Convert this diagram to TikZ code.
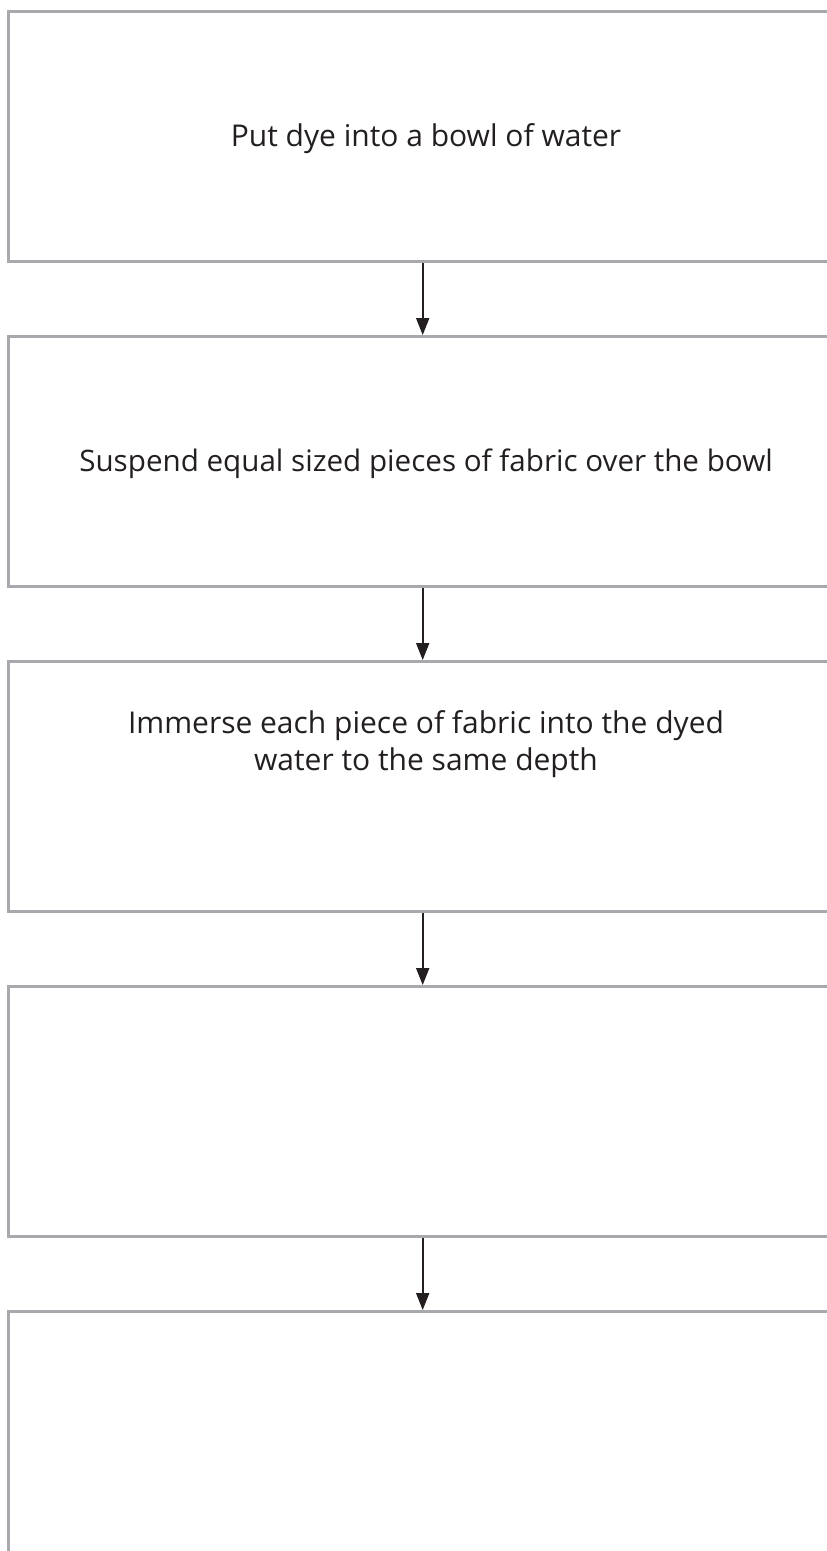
\documentclass[tikz,border=0pt]{standalone}
\usepackage{fontspec}
\setmainfont{Open Sans}
\usetikzlibrary{arrows.meta}
\definecolor{boxgray}{HTML}{A7A9AC}
\definecolor{ink}{HTML}{231F20}
\begin{document}
\begin{tikzpicture}[x=1pt,y=-1pt,
  stepbox/.style={draw=boxgray, line width=3pt, minimum width=835pt, minimum height=250pt, inner sep=0pt},
  label/.style={text=ink, align=center, font=\fontsize{30}{37}\selectfont, inner sep=0pt},
  flow/.style={draw=ink, line width=2pt, -{Triangle[width=13pt,length=17pt]}}]
\useasboundingbox (0,0) rectangle (827,1551);
\clip (0,0) rectangle (827,1551);
\node[stepbox] (b1) at (426,136.5) {};
\node[stepbox] (b2) at (426,461.5) {};
\node[stepbox] (b3) at (426,786.5) {};
\node[stepbox] (b4) at (426,1111.5) {};
\node[stepbox] (b5) at (426,1436.5) {};
\node[label] (t1) at (426,139) {Put dye into a bowl of water};
\node[label] (t2) at (426,464) {\fontsize{29.6}{37}\selectfont Suspend equal sized pieces of fabric over the bowl};
\node[label] (t3) at (426,744) {Immerse each piece of fabric into the dyed\\water to the same depth};
\draw[flow] ([xshift=-3.3pt]b1.south) -- ([xshift=-3.3pt]b2.north);
\draw[flow] ([xshift=-3.3pt]b2.south) -- ([xshift=-3.3pt]b3.north);
\draw[flow] ([xshift=-3.3pt]b3.south) -- ([xshift=-3.3pt]b4.north);
\draw[flow] ([xshift=-3.3pt]b4.south) -- ([xshift=-3.3pt]b5.north);
\end{tikzpicture}
\end{document}
